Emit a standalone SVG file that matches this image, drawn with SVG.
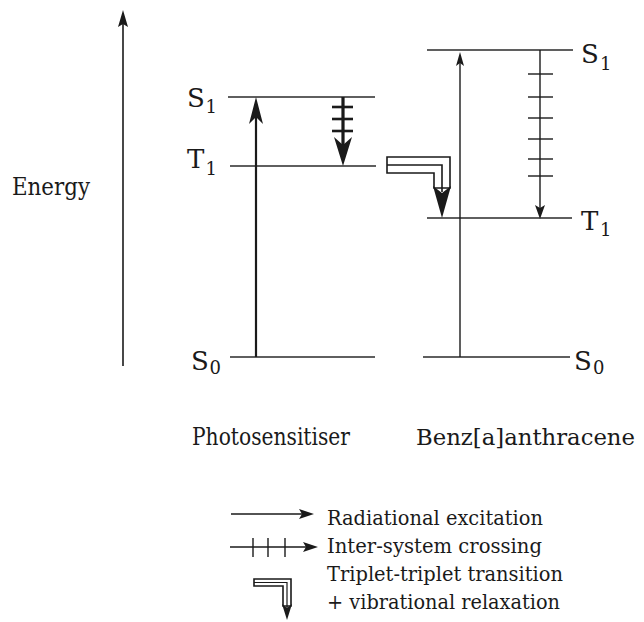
<svg xmlns="http://www.w3.org/2000/svg" width="644" height="622" viewBox="0 0 644 622">
<style>
.lvl{stroke:#2a2a2a;stroke-width:1.4;fill:none}
.ln{stroke:#1a1a1a;fill:none}
.hd{fill:#1a1a1a;stroke:none}
.dbl{fill:#fff;stroke:#1a1a1a;stroke-width:1.6}
</style>
<rect width="644" height="622" fill="#fff"/>

<g id="energy-axis" font-family="DejaVu Serif, serif" fill="#1a1a1a">
<line class="ln" x1="123" y1="366" x2="123" y2="22" stroke-width="1.6"/>
<path class="hd" d="M123,10 L128,27 L123,24 L118,27 Z"/>
<text font-size="24" x="12" y="195" textLength="78" lengthAdjust="spacingAndGlyphs">Energy</text>
</g>

<g id="photosensitiser" font-family="DejaVu Serif, serif" fill="#1a1a1a">
<line class="lvl" x1="228" y1="97" x2="375" y2="97"/>
<line class="lvl" x1="230" y1="166" x2="376" y2="166"/>
<line class="lvl" x1="230" y1="357" x2="375" y2="357"/>
<text font-size="26" x="187" y="107">S</text><text font-size="18" x="205.5" y="113">1</text>
<text font-size="26" x="187" y="168">T</text><text font-size="18" x="205.5" y="175">1</text>
<text font-size="26" x="191" y="370">S</text><text font-size="18" x="209.5" y="374">0</text>
<text font-size="24" x="192" y="445" textLength="158" lengthAdjust="spacingAndGlyphs">Photosensitiser</text>
</g>

<g id="benzanthracene" font-family="DejaVu Serif, serif" fill="#1a1a1a">
<line class="lvl" x1="427" y1="50" x2="573" y2="50"/>
<line class="lvl" x1="427" y1="218" x2="572" y2="218"/>
<line class="lvl" x1="423" y1="357" x2="570" y2="357"/>
<text font-size="26" x="581" y="63">S</text><text font-size="18" x="600" y="70">1</text>
<text font-size="26" x="581" y="230">T</text><text font-size="18" x="600" y="236">1</text>
<text font-size="26" x="574" y="370">S</text><text font-size="18" x="593" y="374">0</text>
<text font-size="22" x="416" y="445" textLength="219" lengthAdjust="spacingAndGlyphs">Benz[a]anthracene</text>
</g>

<g id="connectors">
<line class="ln" x1="256" y1="357" x2="256" y2="115" stroke-width="2.2"/>
<path class="hd" d="M256,97 L263,124 L256,117 L249,124 Z"/>
<line class="ln" x1="343" y1="97" x2="343" y2="145" stroke-width="3.2"/>
<line class="ln" x1="332" y1="107" x2="353" y2="107" stroke-width="2.6"/>
<line class="ln" x1="332" y1="119" x2="353" y2="119" stroke-width="2.6"/>
<line class="ln" x1="332" y1="131" x2="353" y2="131" stroke-width="2.6"/>
<path class="hd" d="M343,166 L352,137 L343,145 L334,137 Z"/>
<path class="dbl" d="M387,157 L450,157 L450,188 L434,188 L434,173 L387,173 Z"/>
<path class="ln" d="M387,165 L442,165 L442,192" stroke-width="1.6"/>
<path class="hd" d="M442,218 L451,186 L442,193 L433,186 Z"/>
<line class="ln" x1="460" y1="357" x2="460" y2="62" stroke-width="1.4"/>
<path class="hd" d="M460,52 L464,66 L460,63 L456,66 Z"/>
<line class="ln" x1="540" y1="50" x2="540" y2="208" stroke-width="1.4"/>
<line class="ln" x1="528" y1="74" x2="553" y2="74" stroke-width="1.4"/>
<line class="ln" x1="528" y1="97" x2="553" y2="97" stroke-width="1.4"/>
<line class="ln" x1="528" y1="118" x2="553" y2="118" stroke-width="1.4"/>
<line class="ln" x1="528" y1="139" x2="553" y2="139" stroke-width="1.4"/>
<line class="ln" x1="528" y1="159" x2="553" y2="159" stroke-width="1.4"/>
<line class="ln" x1="528" y1="176" x2="553" y2="176" stroke-width="1.4"/>
<path class="hd" d="M540,219 L545,205 L540,208 L535,205 Z"/>
</g>

<g id="legend" font-family="DejaVu Serif, serif" font-size="20" fill="#1a1a1a">
<line class="ln" x1="231" y1="514" x2="304" y2="514" stroke-width="1.4"/>
<path class="hd" d="M314,514 L299,509 L302,514 L299,519 Z"/>
<text x="327" y="525" textLength="216" lengthAdjust="spacingAndGlyphs">Radiational excitation</text>
<line class="ln" x1="230" y1="547" x2="308" y2="547" stroke-width="1.4"/>
<line class="ln" x1="253" y1="538" x2="253" y2="557" stroke-width="1.4"/>
<line class="ln" x1="268" y1="538" x2="268" y2="557" stroke-width="1.4"/>
<line class="ln" x1="285" y1="538" x2="285" y2="557" stroke-width="1.4"/>
<path class="hd" d="M318,547 L303,542 L306,547 L303,552 Z"/>
<text x="327" y="553" textLength="215" lengthAdjust="spacingAndGlyphs">Inter-system crossing</text>
<path class="dbl" d="M254,579 L291,579 L291,606 L283,606 L283,586 L254,586 Z" stroke-width="1.2"/>
<path class="ln" d="M254,582.5 L287,582.5 L287,608" stroke-width="1.2"/>
<path class="hd" d="M287,620 L292,604 L287,608 L282,604 Z"/>
<text x="327" y="581" textLength="236" lengthAdjust="spacingAndGlyphs">Triplet-triplet transition</text>
<text x="327" y="609" textLength="233" lengthAdjust="spacingAndGlyphs">+ vibrational relaxation</text>
</g>
</svg>
